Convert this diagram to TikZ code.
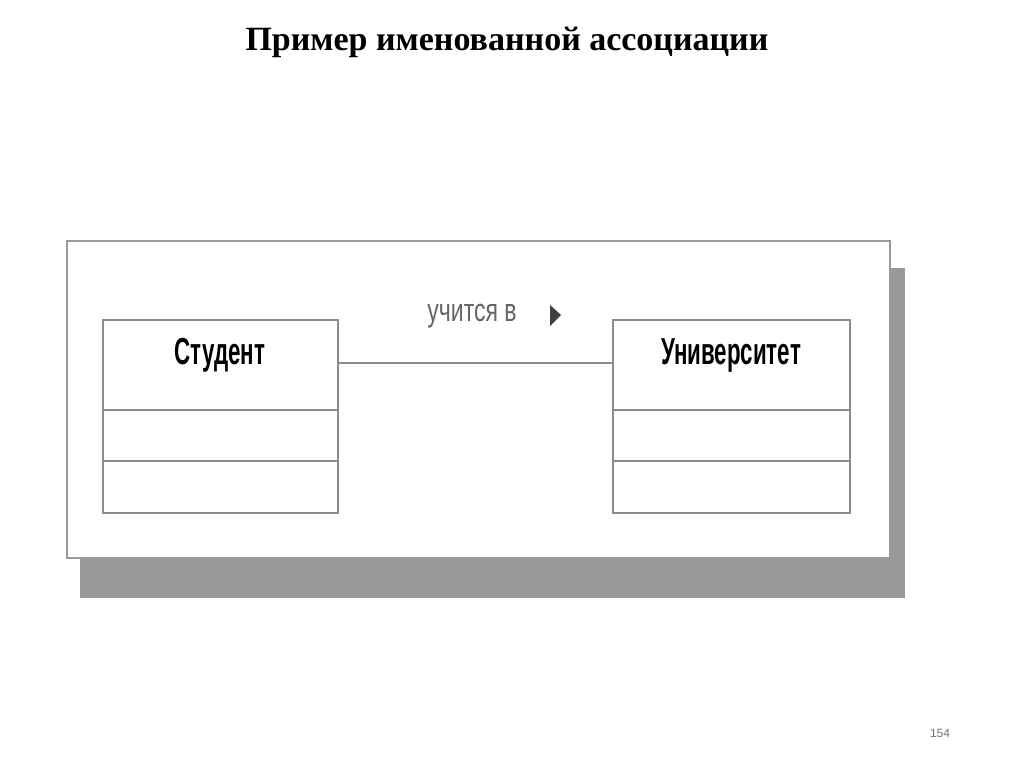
\documentclass[tikz,border=0pt]{standalone}
\usepackage{graphicx}
\usepackage{fontspec}
\setmainfont{Liberation Serif}
\newfontfamily\sansf{Liberation Sans}
\begin{document}
\begin{tikzpicture}[x=1pt,y=-1pt,
  frm/.style={draw=black!40,line width=2.5pt},
  cls/.style={draw=black!45,line width=2.5pt,fill=white}]
\useasboundingbox (0,0) rectangle (1024,767);
\fill[white] (0,0) rectangle (1024,767);
\node (title) at (507,42) {\fontsize{34}{38}\selectfont\bfseries Пример именованной ассоциации};
\fill[black!40] (80,268) rectangle (905,598);
\draw[frm,fill=white] (67,241) rectangle (890,558);
% Student
\draw[cls] (103,320) rectangle (338,513);
\draw[cls] (103,410) -- (338,410);
\draw[cls] (103,461) -- (338,461);
\node (s) at (220,355) {\scalebox{0.95}[1.6]{\sansf\bfseries\fontsize{23.5}{26}\selectfont Студент}};
% University
\draw[cls] (613,320) rectangle (850,513);
\draw[cls] (613,410) -- (850,410);
\draw[cls] (613,461) -- (850,461);
\node (u) at (731,355) {\scalebox{0.95}[1.6]{\sansf\bfseries\fontsize{23.5}{26}\selectfont Университет}};
\coordinate (a) at (338,363);
\coordinate (b) at (613,363);
\draw[draw=black!45,line width=2.5pt] (a) -- (b);
\node[text=black!60] (lab) at (472,316) {\scalebox{1}[1.4]{\sansf\fontsize{23}{26}\selectfont учится в}};
\fill[black!75] (550,305) -- (561,315) -- (550,326) -- cycle;
\node[text=black!55] (pg) at (940,733) {\sansf\fontsize{12}{14}\selectfont 154};
\end{tikzpicture}
\end{document}
